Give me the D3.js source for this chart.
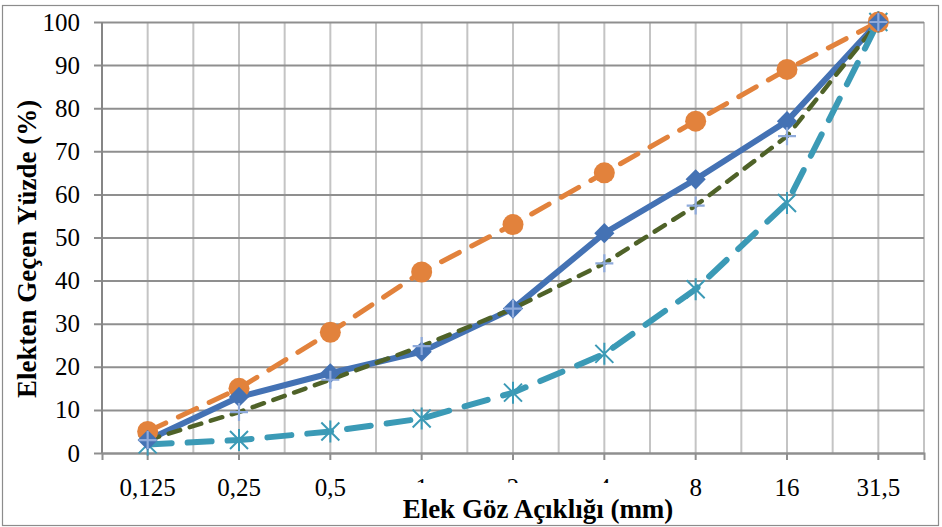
<!DOCTYPE html>
<html>
<head>
<meta charset="utf-8">
<script src="https://cdn.jsdelivr.net/npm/d3@7"></script>
<style>
  body { margin: 0; background: #fff; }
  text { font-family: "Liberation Serif", "Times New Roman", serif; fill: #000; }
</style>
</head>
<body>
<div id="chart"></div>
<script>
const sieves = ['0,125', '0,25', '0,5', '1', '2', '4', '8', '16', '31,5']
const yTicks = [0, 10, 20, 30, 40, 50, 60, 70, 80, 90, 100]

// passing percentages per series
const blueValues = [3, 13, 18.5, 23.5, 33.5, 51, 63.5, 77, 100]
const orangeValues = [5, 15, 28, 42, 53, 65, 77, 89, 100]
const greenValues = [3, 9.5, 17, 24.8, 33.5, 44, 57.4, 73.5, 100]
const tealValues = [2, 3, 5, 8, 14, 23, 38, 58, 100]

const width = 942, height = 527
const margin = { top: 22, right: 18, bottom: 74, left: 102 }
const serif = 'Liberation Serif, Times New Roman, serif'

const svg = d3.select('#chart').append('svg')
    .attr('width', width)
    .attr('height', height)

// outer frame
svg.append('rect')
    .attr('x', 2.5).attr('y', 5.5)
    .attr('width', 936).attr('height', 520)
    .attr('fill', 'none')
    .attr('stroke', '#8c8c8c')
    .attr('stroke-width', 1.2)

const innerW = width - margin.left - margin.right
const innerH = height - margin.top - margin.bottom

const xScale = d3.scaleBand()
    .domain(sieves)
    .range([margin.left, margin.left + innerW])
    .padding(0)

const yScale = d3.scaleLinear()
    .domain([0, 100])
    .range([margin.top + innerH, margin.top])

const cx = d => xScale(d) + xScale.bandwidth() / 2

// vertical gridlines: category borders and centers
const vLines = []
sieves.forEach(s => { vLines.push(xScale(s)); vLines.push(cx(s)) })
vLines.push(xScale.range()[1])

svg.append('g').selectAll('line')
    .data(vLines.slice(1))
    .join('line')
    .attr('x1', d => d).attr('x2', d => d)
    .attr('y1', yScale(100)).attr('y2', yScale(0))
    .attr('stroke', '#c4c4c4')
    .attr('stroke-width', 2)

// y axis with horizontal gridlines
const yAxis = d3.axisLeft(yScale)
    .tickValues(yTicks)
    .tickSize(-innerW)
    .tickPadding(22)

svg.append('g')
    .attr('transform', `translate(${margin.left},0)`)
    .call(yAxis)
    .attr('font-family', serif)
    .attr('font-size', 25)
    .call(g => g.select('.domain').remove())
    .call(g => g.selectAll('.tick line')
        .attr('x1', -8)
        .attr('stroke', '#8f8f8f')
        .attr('stroke-width', 2))

// y axis line
svg.append('line')
    .attr('x1', margin.left).attr('x2', margin.left)
    .attr('y1', yScale(100)).attr('y2', yScale(0))
    .attr('stroke', '#868686')
    .attr('stroke-width', 2)

// x axis
const xAxis = d3.axisBottom(xScale)
    .tickSize(7)
    .tickPadding(18)

svg.append('g')
    .attr('transform', `translate(0,${yScale(0)})`)
    .call(xAxis)
    .attr('font-family', serif)
    .attr('font-size', 25)
    .call(g => g.select('.domain')
        .attr('stroke', '#8f8f8f')
        .attr('stroke-width', 2))
    .call(g => g.selectAll('.tick line')
        .attr('stroke', '#8f8f8f')
        .attr('stroke-width', 2))

// series lines
const line = d3.line()
    .x((d, i) => cx(sieves[i]))
    .y(d => yScale(d))

const plot = svg.append('g')

const series = [
    { name: 'orange', values: orangeValues, color: '#e2823c', width: 5, dash: '20,14' },
    { name: 'blue', values: blueValues, color: '#4472b4', width: 6, dash: null },
    { name: 'green', values: greenValues, color: '#4f6228', width: 4.5, dash: '12,10' },
    { name: 'teal', values: tealValues, color: '#3b9ab6', width: 6, dash: '24,16' }
]

series.forEach(s => {
    plot.append('path')
        .datum(s.values)
        .attr('fill', 'none')
        .attr('stroke', s.color)
        .attr('stroke-width', s.width)
        .attr('stroke-linecap', 'round')
        .attr('stroke-dasharray', s.dash)
        .attr('d', line)
})

// markers
plot.append('g').selectAll('path')
    .data(tealValues)
    .join('path')
    .attr('transform', (d, i) => `translate(${cx(sieves[i])},${yScale(d)})`)
    .attr('d', 'M-9,-9L9,9M-9,9L9,-9M0,-11L0,11')
    .attr('stroke', '#3b9ab6')
    .attr('stroke-width', 2)

plot.append('g').selectAll('circle')
    .data(orangeValues)
    .join('circle')
    .attr('cx', (d, i) => cx(sieves[i]))
    .attr('cy', d => yScale(d))
    .attr('r', 10.5)
    .attr('fill', '#e2823c')

plot.append('g').selectAll('path')
    .data(blueValues)
    .join('path')
    .attr('transform', (d, i) => `translate(${cx(sieves[i])},${yScale(d)})`)
    .attr('d', d3.symbol(d3.symbolDiamond2, 260))
    .attr('fill', '#4472b4')

plot.append('g').selectAll('path')
    .data(greenValues)
    .join('path')
    .attr('transform', (d, i) => `translate(${cx(sieves[i])},${yScale(d)})`)
    .attr('d', 'M-9,0L9,0M0,-9L0,9')
    .attr('stroke', '#8eaadb')
    .attr('stroke-width', 2.2)

// axis titles
svg.append('text')
    .attr('transform', `translate(36,${yScale(0) - 55}) rotate(-90)`)
    .style('font-size', '27px')
    .style('font-weight', 'bold')
    .text('Elekten Geçen Yüzde (%)')

// title box sits over the tick labels, as in the original
svg.append('rect')
    .attr('x', 404).attr('y', 483)
    .attr('width', 268).attr('height', 41)
    .attr('fill', '#fff')

svg.append('text')
    .attr('x', 538)
    .attr('y', 518)
    .attr('text-anchor', 'middle')
    .style('font-size', '27px')
    .style('font-weight', 'bold')
    .text('Elek Göz Açıklığı (mm)')
</script>
</body>
</html>
